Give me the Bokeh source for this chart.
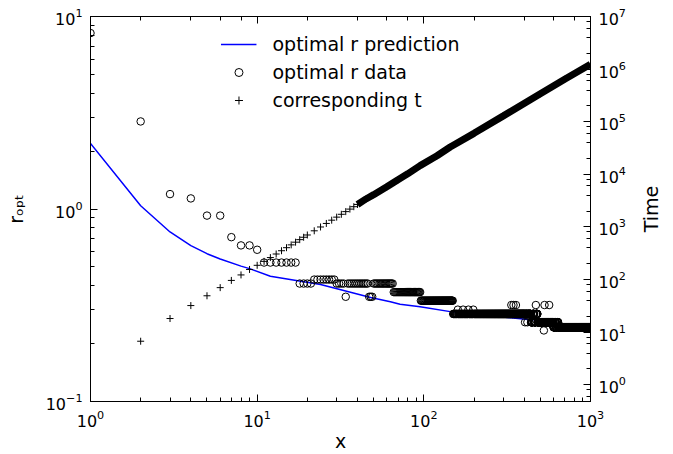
import math
from bokeh.plotting import figure
from bokeh.models import Range1d, LogAxis, LogScale, LogTicker, FixedTicker, Legend, LegendItem, Label
from bokeh.embed import file_html
from bokeh.resources import INLINE

# ---- data ----
# optimal r prediction (blue line)
pred_x = [1, 2, 3, 4, 5, 6, 8, 9, 12, 24, 48, 63, 72, 95, 144, 437, 455]
pred_r = [2.19, 1.04, 0.76, 0.645, 0.586, 0.55, 0.505, 0.49, 0.447, 0.405, 0.347, 0.33, 0.32, 0.311, 0.293, 0.266, 0.265]

# optimal r data: runs of integer x sharing the same value (start, end, level)
seg_start = [1, 2, 3, 4, 5, 7, 8, 10, 11, 18, 22, 30, 34, 35, 47, 50, 66, 96, 150, 160, 161, 172, 173, 185, 186, 198, 199,
             335, 336, 345, 346, 357, 358, 405, 406, 418, 419, 440, 450, 460, 470, 471, 481, 525, 526, 530, 531, 565, 566,
             600, 610, 620, 630, 640]
seg_end = [1, 2, 3, 4, 6, 7, 9, 10, 17, 21, 29, 33, 34, 46, 49, 65, 95, 149, 159, 160, 171, 172, 184, 185, 197, 198, 334,
           335, 344, 345, 356, 357, 404, 405, 417, 418, 439, 449, 459, 469, 470, 480, 524, 525, 529, 530, 564, 565, 599,
           609, 619, 629, 639, 1000]
seg_level = [8.2, 2.85, 1.195, 1.135, 0.924, 0.714, 0.647, 0.614, 0.527, 0.41, 0.43, 0.41, 0.35, 0.41, 0.35, 0.41, 0.37,
             0.334, 0.285, 0.30, 0.285, 0.30, 0.285, 0.30, 0.285, 0.30, 0.285,
             0.317, 0.285, 0.317, 0.285, 0.317, 0.285, 0.258, 0.285, 0.258, 0.285, 0.258, 0.285, 0.258, 0.317, 0.285,
             0.258, 0.234, 0.258, 0.317, 0.258, 0.317, 0.258,
             0.243, 0.258, 0.243, 0.258, 0.243]

# corresponding t (right axis)
t_x = [2, 3, 4, 5, 6, 7, 8, 9, 10, 11, 12, 13, 14, 15, 16, 17, 18, 19, 20, 22, 24, 26, 28, 30, 32, 34, 36, 38,
       40, 45, 50, 60, 70, 80, 95, 120, 144, 200, 300, 500, 700, 1000]
t_val = [6.7, 18.1, 31.9, 49, 70, 96, 122, 155, 186, 221, 261, 305, 352, 402, 455, 512, 572, 635, 701, 842, 996,
         1162, 1341, 1532, 1735, 1951, 2178, 2418, 2670, 3400, 4100, 5800, 7900, 10200, 14600, 22500, 33000,
         60000, 129000, 340000, 640000, 1230000]

labels = ["optimal r prediction", "optimal r data", "corresponding t"]

# left axis ticks
r_major_ticks = [0.1, 1, 10]
r_minor_ticks = [0.2, 0.3, 0.4, 0.5, 0.6, 0.7, 0.8, 0.9, 2, 3, 4, 5, 6, 7, 8, 9]

data_x, data_r = [], []
for s, e, lv in zip(seg_start, seg_end, seg_level):
    for xi in range(s, e + 1):
        data_x.append(xi)
        data_r.append(lv)

band_x = [a for a in t_x if a >= 40]
band_t = [b for a, b in zip(t_x, t_val) if a >= 40]

FONT = "DejaVu Sans"

x_rng = Range1d(1, 1000)
t_rng = Range1d(10 ** -0.32, 1e7)

p = figure(width=673, height=454, x_axis_type="log", y_axis_type="log",
           x_range=x_rng, y_range=Range1d(0.1, 10),
           output_backend="svg", toolbar_location=None,
           min_border_left=90, min_border_right=83, min_border_top=16, min_border_bottom=50,
           background_fill_color="white", border_fill_color="white",
           outline_line_color="black", outline_line_width=1)
p.extra_y_ranges = {"t": t_rng}
p.extra_y_scales = {"t": LogScale()}
p.grid.visible = False

ax_b = p.below[0]
ax_l = p.left[0]
ax_l.ticker = FixedTicker(ticks=r_major_ticks, minor_ticks=r_minor_ticks)

ax_r = LogAxis(y_range_name="t", ticker=LogTicker(desired_num_ticks=10))
p.add_layout(ax_r, "right")
ax_t = LogAxis()
p.add_layout(ax_t, "above")


def style(ax):
    ax.major_tick_in = 7
    ax.major_tick_out = 0
    ax.minor_tick_in = 4
    ax.minor_tick_out = 0
    ax.axis_line_color = "black"
    ax.major_tick_line_color = "black"
    ax.minor_tick_line_color = "black"
    ax.major_label_text_font = FONT
    ax.major_label_text_font_size = "16px"
    ax.major_label_text_color = "black"
    ax.major_label_standoff = 8
    ax.axis_label_text_font = FONT
    ax.axis_label_text_font_size = "19px"
    ax.axis_label_text_font_style = "normal"
    ax.axis_label_text_color = "black"


for ax in [ax_b, ax_l, ax_r, ax_t]:
    style(ax)

ax_b.axis_label = "x"
ax_b.axis_label_standoff = 0
ax_l.axis_label = "rₒₚₜ"
ax_l.axis_label_standoff = 16
ax_t.major_label_text_font_size = "1px"
ax_t.major_label_text_alpha = 0
ax_t.major_label_standoff = 0

# right-axis title, reading bottom-to-top, centred on the axis (placed in the right panel)
time_label = Label(x=x_rng.end, y=math.sqrt(t_rng.start * t_rng.end), y_range_name="t",
                   x_offset=60, text="Time", angle=math.pi / 2, angle_units="rad",
                   text_align="center", text_baseline="middle",
                   text_font=FONT, text_font_size="19px", text_color="black")
p.add_layout(time_label, "right")

r_line = p.line(pred_x, pred_r, line_color="blue", line_width=1.5)
r_circ = p.scatter(data_x, data_r, marker="circle", size=7.5, fill_color=None,
                   line_color="black", line_width=1)
p.line(band_x, band_t, y_range_name="t", line_color="black", line_width=7)
r_plus = p.scatter(t_x, t_val, marker="cross", size=7, line_color="black", line_width=1,
                   y_range_name="t")

legend = Legend(items=[LegendItem(label=labels[0], renderers=[r_line]),
                       LegendItem(label=labels[1], renderers=[r_circ]),
                       LegendItem(label=labels[2], renderers=[r_plus])],
                location="top_center", border_line_alpha=0, background_fill_alpha=0,
                label_text_font=FONT, label_text_font_size="19px", label_text_color="black",
                glyph_width=36, glyph_height=20, label_height=20, spacing=6,
                padding=7, margin=10, label_standoff=16)
p.add_layout(legend)

open("out.html", "w").write(file_html(p, INLINE))
